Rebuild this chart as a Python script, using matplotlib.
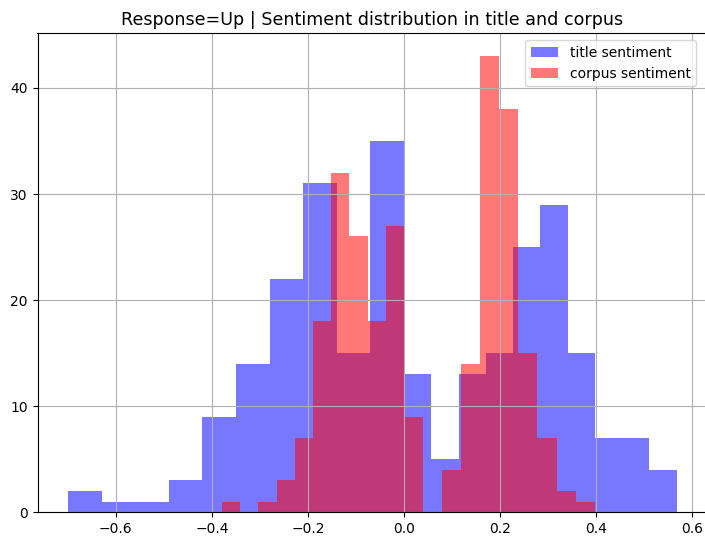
import numpy as np
import matplotlib
matplotlib.use("Agg")
import matplotlib.pyplot as plt

# bin edges: negatives and positives were binned separately, 10 bins each side
title_edges = np.concatenate([np.linspace(-0.6995, 0.0, 11), np.linspace(0.0, 0.567, 11)[1:]])
corpus_edges = np.concatenate([np.linspace(-0.3787, 0.0, 11), np.linspace(0.0, 0.3965, 11)[1:]])

title_counts = [2, 1, 1, 3, 9, 14, 22, 31, 15, 35,
                13, 5, 13, 15, 25, 29, 15, 7, 7, 4]
corpus_counts = [1, 0, 1, 3, 7, 18, 32, 26, 18, 27,
                 9, 0, 4, 14, 43, 38, 15, 7, 2, 1]

W, H = 705, 536
fig = plt.figure(figsize=(W/100, H/100), dpi=100)
# right spine sits just past the image edge in the reference
ax = fig.add_axes([37.5/W, 1-512.3/H, (707-37.5)/W, (512.3-33.3)/H])

ax.hist(title_edges[:-1], bins=title_edges, weights=title_counts,
        color="blue", alpha=0.53, label="title sentiment")
ax.hist(corpus_edges[:-1], bins=corpus_edges, weights=corpus_counts,
        color="red", alpha=0.53, label="corpus sentiment")

ax.grid(True, color="#b0b0b0", linewidth=0.8)
ax.tick_params(labelsize=10)
ax.set_title("Response=Up | Sentiment distribution in title and corpus", fontsize=12.6)
ax.legend(loc="upper right", fontsize=10, bbox_to_anchor=(703/W, 1-33.3/H),
          bbox_transform=fig.transFigure)

fig.savefig("out.png", dpi=100)
